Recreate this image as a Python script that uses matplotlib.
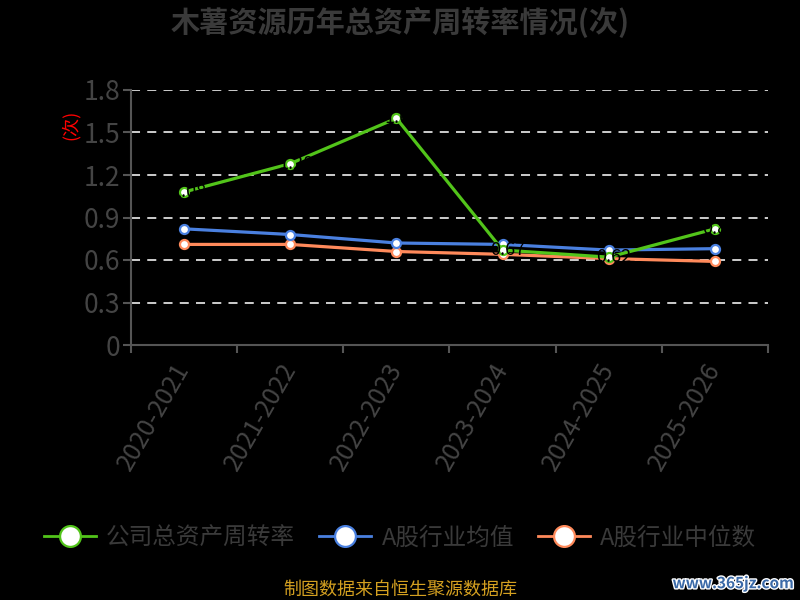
import matplotlib
matplotlib.use("Agg")
import matplotlib.pyplot as plt
import matplotlib.patheffects as pe
from matplotlib.lines import Line2D

plt.rcParams['font.family'] = ['Noto Sans CJK SC', 'DejaVu Sans']

categories = ["2020-2021", "2021-2022", "2022-2023", "2023-2024", "2024-2025", "2025-2026"]
company = [1.08, 1.28, 1.60, 0.67, 0.62, 0.82]
industry_avg = [0.82, 0.78, 0.72, 0.71, 0.67, 0.68]
industry_median = [0.71, 0.71, 0.66, 0.64, 0.61, 0.59]
yticks = [0, 0.3, 0.6, 0.9, 1.2, 1.5, 1.8]
ytick_labels = ["0", "0.3", "0.6", "0.9", "1.2", "1.5", "1.8"]
series_names = ["公司总资产周转率", "A股行业均值", "A股行业中位数"]
colors = ["#52c41a", "#4a80e0", "#ff8a5b"]

fig = plt.figure(figsize=(8, 6), dpi=100, facecolor="black")
ax = fig.add_axes([0.16375, 0.425, 0.79625, 0.425])
ax.set_facecolor("black")

x = list(range(len(categories)))
for vals, c, z in [(industry_median, colors[2], 3), (industry_avg, colors[1], 4), (company, colors[0], 5)]:
    ax.plot(x, vals, color=c, lw=2.3, marker="o", ms=6.5, mfc="white", mec=c, mew=1.6, zorder=z)

for xi, v in zip(x, company):
    ax.text(xi + 0.05, v, f"{v:.2f}", color="black", fontsize=13, ha="center", va="center", zorder=6)

ax.set_xlim(-0.5, len(categories) - 0.5)
ax.set_ylim(0, 1.8)
ax.set_yticks(yticks)
ax.set_yticklabels(ytick_labels)
ax.set_xticks([i - 0.5 for i in range(len(categories) + 1)], minor=False)
ax.set_xticklabels([])
ax.set_xticks(x, minor=True)
ax.set_xticklabels(categories, minor=True, rotation=60, ha="right", va="center",
                   rotation_mode="anchor", color="#444444", fontsize=18)
ax.tick_params(axis="x", which="minor", length=0, pad=14)
ax.tick_params(axis="x", which="major", length=6, width=1.5, color="#555555")
ax.tick_params(axis="y", length=6, width=1.5, color="#555555", labelcolor="#444444", labelsize=19, pad=2)

for yv in yticks[1:]:
    ax.axhline(yv, color="#dddddd", lw=1.3, ls=(0, (5, 4)), zorder=1)

for s in ["top", "right"]:
    ax.spines[s].set_visible(False)
for s in ["left", "bottom"]:
    ax.spines[s].set_color("#555555")
    ax.spines[s].set_linewidth(1.5)

fig.text(0.5, 0.962, "木薯资源历年总资产周转率情况(次)", ha="center", va="center",
         fontsize=21, fontweight="bold", color="#3a3a3a")
fig.text(0.088, 0.792, "(次)", rotation=90, ha="center", va="center", fontsize=13, color="red")

handles = [Line2D([0], [0], color=c, lw=2, marker="o", ms=15, mfc="white", mec=c, mew=1.6) for c in colors]
leg = fig.legend(handles, series_names, loc="center", bbox_to_anchor=(0.5, 0.103), ncol=3,
                 frameon=False, fontsize=17, handlelength=2.2, columnspacing=1.0, handletextpad=0.45)
for t in leg.get_texts():
    t.set_color("#3a3a3a")

fig.text(0.5, 0.017, "制图数据来自恒生聚源数据库", ha="center", va="center", fontsize=13, color="#d4a020")
fig.text(0.992, 0.028, "www.365jz.com", ha="right", va="center", fontsize=11, fontweight="bold",
         color="#3b6aa8", path_effects=[pe.withStroke(linewidth=2, foreground="white")])

fig.savefig("out.png", dpi=100, facecolor="black")
